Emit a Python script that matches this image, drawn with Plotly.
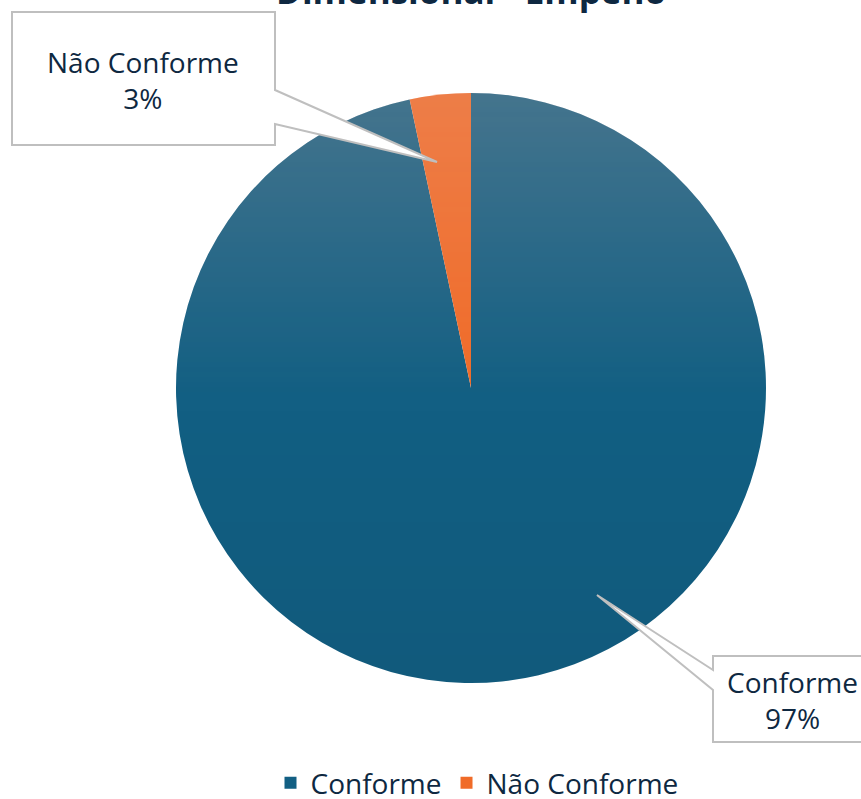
import base64
import struct
import zlib

import numpy as np
import plotly.graph_objects as go

# data
labels = ["Conforme", "Não Conforme"]
values = [29, 1]
colors = ["#125f83", "#f06b28"]
title_text = "Dimensional - Empeno"

W, H = 861, 799
NAVY = "#0e2841"
FONT = "Open Sans"

# pie placement in pixels (centre + radius)
CX, CY, R = 471, 388, 295


def px(x):
    return x / W


def py(y):
    return 1 - y / H


def png_data_uri(rgba):
    # tiny PNG writer so the gradient overlay needs no extra libs
    h, w, _ = rgba.shape
    raw = b"".join(b"\x00" + rgba[i].tobytes() for i in range(h))

    def chunk(tag, data):
        c = struct.pack(">I", len(data)) + tag + data
        return c + struct.pack(">I", zlib.crc32(tag + data) & 0xFFFFFFFF)

    png = b"\x89PNG\r\n\x1a\n"
    png += chunk(b"IHDR", struct.pack(">IIBBBBB", w, h, 8, 6, 0, 0, 0))
    png += chunk(b"IDAT", zlib.compress(raw, 9))
    png += chunk(b"IEND", b"")
    return "data:image/png;base64," + base64.b64encode(png).decode()


def gradient_overlay(n):
    # lighter tint at the top, fading out by the middle, slight shade at the bottom
    yy, xx = np.mgrid[0:n, 0:n] + 0.5
    d = np.hypot(xx - n / 2, yy - n / 2)
    cover = np.clip(n / 2 - d + 0.5, 0, 1)
    f = yy / n
    split = 0.52
    img = np.zeros((n, n, 4), dtype=float)
    top = f < split
    img[..., 0] = np.where(top, 230, 0)
    img[..., 1] = np.where(top, 185, 0)
    img[..., 2] = np.where(top, 175, 0)
    alpha = np.where(top, 0.24 * (1 - f / split), 0.05 * (f - split) / (1 - split))
    img[..., 3] = alpha * cover * 255
    return png_data_uri(np.round(img).astype(np.uint8))


total = sum(values)
pcts = [round(v / total * 100) for v in values]

dom_x = [px(CX - R), px(CX + R)]
dom_y = [py(CY + R), py(CY - R)]

fig = go.Figure(go.Pie(
    labels=labels,
    values=values,
    sort=False,
    direction="clockwise",
    rotation=0,
    marker=dict(colors=colors, line=dict(width=0)),
    textinfo="none",
    hoverinfo="skip",
    domain=dict(x=dom_x, y=dom_y),
))

fig.add_layout_image(
    source=gradient_overlay(2 * R),
    xref="paper", yref="paper",
    x=dom_x[0], y=dom_y[1],
    sizex=dom_x[1] - dom_x[0], sizey=dom_y[1] - dom_y[0],
    xanchor="left", yanchor="top",
    sizing="stretch", layer="above",
)


def callout_path(pts):
    return "M " + " L ".join(f"{px(x):.5f},{py(y):.5f}" for x, y in pts) + " Z"


callouts = [
    # box outline with pointer towards the slice
    [(713, 656), (880, 656), (880, 742), (713, 742), (713, 690), (597, 595), (713, 670)],
    [(12, 12), (275, 12), (275, 90), (437, 162), (275, 124), (275, 145), (12, 145)],
]
for pts in callouts:
    fig.add_shape(type="path", path=callout_path(pts), xref="paper", yref="paper",
                  fillcolor="white", line=dict(color="#bfbfbf", width=2), layer="above")

label_pos = [(792, 700), (143, 80)]
for lab, p, (x, y) in zip(labels, pcts, label_pos):
    fig.add_annotation(text=f"{lab}<br>{p}%", x=px(x), y=py(y), xref="paper", yref="paper",
                       showarrow=False, font=dict(family=FONT, size=28, color=NAVY),
                       xanchor="center", yanchor="middle", align="center")

# title sits mostly above the visible area
fig.add_annotation(text=f"<b>{title_text}</b>", x=px(471), y=1.012, xref="paper", yref="paper",
                   showarrow=False, font=dict(family=FONT, size=35, color=NAVY),
                   xanchor="center", yanchor="middle")

fig.update_layout(
    width=W, height=H,
    margin=dict(l=0, r=0, t=0, b=0, autoexpand=False),
    paper_bgcolor="white",
    plot_bgcolor="white",
    font=dict(family=FONT, color=NAVY),
    showlegend=True,
    legend=dict(orientation="h", xref="container", yref="container",
                x=px(477), xanchor="center", y=py(783), yanchor="middle",
                font=dict(family=FONT, size=28, color=NAVY), traceorder="normal"),
)

fig.write_html("out.html", config={"displayModeBar": False},
               post_script="document.body.style.margin='0';document.body.style.overflow='hidden';")
